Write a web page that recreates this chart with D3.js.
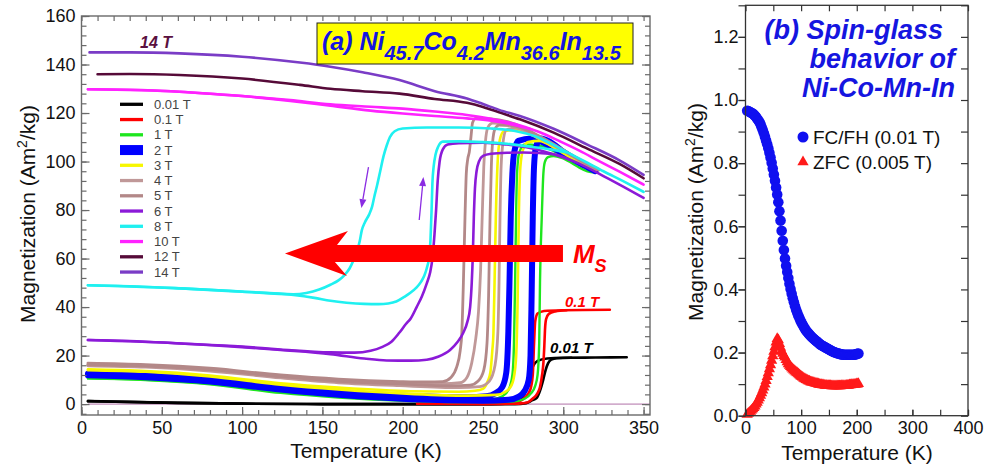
<!DOCTYPE html>
<html><head><meta charset="utf-8">
<script src="https://cdn.jsdelivr.net/npm/d3@7"></script>
<style>
body{margin:0;background:#fff;}
svg{display:block;font-family:"Liberation Sans",Arial,Helvetica,sans-serif;}
</style></head><body>
<svg id="chart" width="986" height="465"></svg>
<script>
// ---------- Panel (a): M(T) loops of Ni45.7Co4.2Mn36.6In13.5, [T (K), M (Am2/kg)] ----------
const fieldLabels = ["0.01 T","0.1 T","1 T","2 T","3 T","4 T","5 T","6 T","8 T","10 T","12 T","14 T"];
const tickTempA = [0,50,100,150,200,250,300,350];
const tickMagA = [0,20,40,60,80,100,120,140,160];

const m001Cool = [[4,1.2],[30,0.9],[60,0.5],[100,0.2],[150,0],[200,0],[255,0],[268,0.3],[273,1.5],[276,4.4],[278,8.5],[279.5,12.5],[281.5,16],[284,17.8],[290,18.8],[300,19.1],[320,19.2],[339.5,19.3]];
const m001Heat = [[4,1.2],[60,0.5],[100,0.2],[150,0],[270,0],[277,0.4],[280.5,1.5],[283.5,2.6],[285.5,5.5],[287.5,10],[289,14],[290.5,16.8],[292.5,18.3],[296,18.9],[305,19.1]];
const m01Cool = [[209,0.2],[250,0.1],[266,0.3],[272,1],[276.5,3],[279.5,6],[281,12],[281.8,25],[282.5,34],[284,37.3],[288,38.4],[300,38.7],[329,38.9]];
const m01Heat = [[209,0.2],[260,0.1],[272,0.2],[278,0.8],[281,2.3],[284,4.5],[285.5,7],[286.8,12],[287.6,16.8],[288.2,24],[288.6,30.5],[289.3,35],[291,37.2],[295,38.2],[302,38.7]];
const m1Cool = [[4,10.6],[40,10],[80,8.4],[124,5.2],[160,3.2],[205,1.8],[240,1.3],[255,1.8],[262,3.2],[266,6],[268.3,12],[269.3,25],[270,50],[270.6,77],[271.2,95],[272.5,103.5],[276,107],[285,106.5],[295,104],[305,100.5],[315,97.2],[320,96]];
const m1Heat = [[4,10.6],[40,9.9],[80,8.2],[124,4.6],[160,2.7],[205,1.3],[250,0.8],[268,1],[276,2.2],[280,4.5],[282.5,7.5],[284,12],[285,25],[285.5,50],[286.6,77],[287.6,95],[288.5,99.8],[290.5,101.8],[294,102.3],[299,101.5],[305,99.5],[310,97.5],[315,96],[320,95.5]];
const m2Cool = [[4,12.5],[40,11.8],[80,10],[124,7],[160,4.9],[205,3.3],[240,2.8],[252,3.2],[258,4.6],[262,7],[264.5,13],[265.8,30],[266.5,50],[267.3,77],[268.3,95],[269.5,104],[272,108.5],[280,109.5],[290,107],[300,103.2],[310,99.5],[320,96]];
const m2Heat = [[4,11.9],[40,11.1],[80,9.3],[124,6],[160,3.8],[205,2],[250,1.4],[266,1.8],[272,3],[276,5.5],[278.5,10],[279.6,20],[280.3,45],[281,77],[281.8,98],[283,106],[286,109.5],[292,108],[300,104],[310,100],[320,96.5]];
const m3Cool = [[4,14.3],[40,13.6],[80,11.8],[124,8.6],[160,6.8],[205,5.3],[235,5.1],[245,5.5],[250,6.3],[253,9.5],[254.6,13],[255.8,22],[256.5,29],[257.2,50],[258,77],[259,98],[260.5,109],[263,112.5],[270,113],[280,111],[290,107.5],[300,103.5],[310,100],[320,96.5]];
const m3Heat = [[4,14],[40,13.3],[80,11.4],[124,8],[160,6],[205,4.2],[240,3.5],[258,3.8],[265,5.5],[268.5,9],[270.5,18],[271.5,40],[272.3,77],[273.3,98],[275,105],[278,108],[285,108.5],[295,105.5],[305,101.5],[320,96.5]];
const m4Cool = [[4,16.3],[40,15.7],[80,14.2],[124,11.5],[160,9.8],[198,8.6],[225,8.4],[235.7,8.8],[240,11],[243,17],[245.5,27],[247.2,38],[248.5,55],[249.5,77],[250.5,98],[251.5,108],[253,114],[256,115.8],[265,115.6],[275,113.2],[285,110],[295,106.5],[305,102.5],[315,98.8],[322,96.5]];
const m4Heat = [[4,15.8],[40,15.2],[80,13.6],[124,10.8],[160,8.8],[198,7.6],[235,6.8],[248,7.2],[254,9.5],[257.5,16],[259.3,30],[260,50],[260.6,77],[261.3,98],[262.5,108],[264.5,113],[270,113.8],[280,111.5],[290,108],[300,104.5],[310,100.5],[322,96.5]];
const m5Cool = [[4,16.9],[40,16.3],[80,14.8],[124,12],[160,10.3],[198,9.3],[215,9.1],[225,9.3],[230,11],[233.7,15.4],[235.8,22],[236.8,29],[237.8,50],[238.8,77],[239.6,95],[240.5,101],[241.5,104],[242.5,110],[243.5,116],[245.5,117.8],[255,117.6],[265,116.5],[275,114],[285,110.5],[295,106.8],[305,102.8],[315,99],[322,96.8]];
const m5Heat = [[4,16.2],[40,15.7],[80,14.2],[124,11.3],[160,9.4],[198,8.3],[230,7.5],[242,7.8],[247,9.5],[250.5,14],[252.5,25],[253.5,45],[254.4,77],[255.2,98],[256,108],[257.5,113.5],[260,115],[270,114.6],[280,112],[290,108.5],[300,104.5],[310,100.8],[322,96.6]];
const m6Cool = [[4,26.4],[30,26],[62,25],[100,23.7],[124,22.5],[155,21.3],[170,21.2],[180,22],[187,23.5],[193,25.7],[198,29.5],[202,33],[205,35.3],[208.7,40],[212,44.5],[215,49.8],[217,54],[218.5,60],[219.8,70],[220.8,80],[221.8,92],[223,100],[225,105],[228,107],[235,107.6],[250,107.8],[265,107],[280,105.5],[294,103],[305,100.5],[315,97.5],[325,94],[335,90.5],[350,85]];
const m6Heat = [[4,26.4],[62,25],[100,23.5],[124,22.3],[155,20.6],[176,18.8],[190,18],[205,17.9],[215,18.3],[222,19.5],[229.5,22.3],[234,25.5],[237.8,29.5],[240.3,34],[242,40],[243,50],[243.7,62],[244.3,77],[245,89],[246,96],[247.5,100],[250,102.3],[255,103.2],[265,103.6],[275,103.7],[285,103.5],[294,103],[305,100.5]];
const m8Cool = [[4,49],[30,48.6],[62,47.7],[100,46.4],[132,45.3],[140,45.8],[148,47.2],[155,49.2],[160,51],[163.5,53],[167,56],[169.5,59.5],[171.5,63],[173.2,67],[174.5,71.5],[176.5,75],[179,78],[181,81.5],[182.5,86],[184,90],[186,96],[188,102],[190,106.5],[192,110],[195,112.5],[200,113.6],[215,114],[235,114],[255,113.6],[270,112.6],[282,110.5],[292,107.5],[302,104],[315,99.5],[325,96],[337,92],[350,87.5]];
const m8Heat = [[4,49],[62,47.7],[100,46.3],[132,45],[145,43.8],[155,42.6],[165,41.8],[176,41.3],[185,41.2],[191,41.5],[196,42.3],[201,44.2],[205,46],[208.5,48],[211.5,50.5],[213.5,53],[215,56],[216.3,60],[217.3,67.6],[218,80],[218.5,91],[219.3,98],[220.5,103],[222,106],[225,108.2],[235,108.3],[250,108],[265,107.3],[281,106],[292,105],[302,103.8]];
const m10Cool = [[4,129.8],[30,129.6],[61,128.8],[100,127],[130,125.3],[155,123.6],[180,122.6],[200,121.8],[220,120.6],[240,119.2],[255,117.6],[270,115.5],[285,112.2],[298,108.3],[310,104.5],[322,100.3],[335,95.8],[350,90.5]];
const m10Heat = [[4,129.8],[61,128.8],[100,127],[130,125],[155,123],[180,121],[200,119.8],[220,118.8],[240,117.8],[255,116.8],[270,115],[280,113.3]];
const m12 = [[10,136],[30,136.1],[61,135.7],[100,134.2],[136,131.6],[155,130],[175,129],[198,128],[220,125.8],[240,124.2],[250,122.5],[260,120.3],[273,117.4],[294,111.9],[315,105.3],[335,99],[350,93.1]];
const m14 = [[5,145],[30,145],[61,144.6],[100,143.2],[136,140.8],[155,139.1],[175,136.8],[198,133.6],[220,129],[240,126],[250,123.7],[260,121.3],[273,118.8],[294,113.5],[315,107],[335,100.5],[350,94.5]];

// ---------- Panel (b): low-field spin-glass data ----------
const tempsB = [3,5,7,9,11,13,15,17,19,21,23,25,27,29,31,33,35,37,39,41,43,45,47,49,51,53,55,57,59,61,63,65,67,69,71,73,75,77,79,81,83,85,87,89,91,93,95,97,99,101,103,105,107,109,111,113,115,117,119,121,123,125,127,129,131,133,135,137,139,141,143,145,147,149,151,153,155,157,159,161,163,165,167,169,171,173,175,177,179,181,183,185,187,189,191,193,195,197,199,201,203];
const fcfh = [.966,.965,.963,.961,.959,.957,.954,.950,.946,.941,.936,.930,.923,.914,.905,.895,.884,.872,.860,.847,.833,.818,.801,.783,.764,.744,.723,.701,.676,.648,.618,.586,.554,.525,.498,.475,.455,.436,.418,.401,.386,.372,.359,.347,.336,.326,.317,.309,.301,.294,.287,.281,.275,.270,.265,.261,.257,.253,.249,.246,.243,.240,.237,.234,.231,.228,.225,.223,.221,.219,.217,.215,.213,.211,.209,.207,.205,.203,.202,.200,.199,.198,.197,.196,.195,.194,.194,.193,.193,.193,.193,.193,.193,.193,.193,.193,.193,.194,.195,.196,.197];
const zfc = [.004,.007,.010,.013,.017,.021,.025,.030,.036,.042,.049,.056,.064,.072,.081,.090,.100,.111,.123,.135,.148,.161,.175,.189,.203,.218,.233,.244,.240,.228,.216,.205,.197,.190,.185,.177,.170,.164,.159,.155,.151,.147,.144,.141,.138,.135,.132,.129,.126,.123,.121,.118,.116,.114,.112,.110,.109,.107,.106,.105,.104,.103,.102,.101,.100,.099,.098,.098,.097,.097,.096,.096,.095,.095,.095,.095,.094,.094,.094,.094,.094,.094,.094,.094,.094,.095,.095,.095,.095,.096,.096,.096,.097,.097,.098,.098,.099,.099,.100,.100,.101];
const tickTempB = [0,100,200,300,400];
const tickMagB = [0,0.2,0.4,0.6,0.8,1.0,1.2];
const seriesB = ["FC/FH (0.01 T)","ZFC (0.005 T)"];

// ---------- styling ----------
const fieldStyle = [
  {color:"#000000", w:2.6, curves:[m001Cool,m001Heat]},
  {color:"#ff0000", w:2.6, curves:[m01Cool,m01Heat]},
  {color:"#1ee61e", w:2.4, curves:[m1Cool,m1Heat]},
  {color:"#0000ff", w:6,   curves:[m2Cool,m2Heat]},
  {color:"#f7f700", w:2.6, curves:[m3Cool,m3Heat]},
  {color:"#c09898", w:2.8, curves:[m4Cool,m4Heat]},
  {color:"#b38888", w:2.8, curves:[m5Cool,m5Heat]},
  {color:"#8b1ad8", w:2.6, curves:[m6Cool,m6Heat]},
  {color:"#1ff0f0", w:2.6, curves:[m8Cool,m8Heat]},
  {color:"#ff22ff", w:2.6, curves:[m10Cool,m10Heat]},
  {color:"#560a38", w:2.6, curves:[m12]},
  {color:"#7a3cc6", w:2.6, curves:[m14]}
];
const titleBlue = "#1515e0";

const svg = d3.select("#chart");

// ================= Panel (a) =================
const xA = d3.scaleLinear().domain([0,354]).range([81.5,650]);
const yA = d3.scaleLinear().domain([-4.5,160]).range([415,16]);
const gA = svg.append("g");
const frameA = "#6a6a6a";

// zero reference line
gA.append("line").attr("x1",xA(4)).attr("x2",xA(354)).attr("y1",yA(0)).attr("y2",yA(0))
  .attr("stroke","#b070a8").attr("stroke-width",1);

const lineA = d3.line().x(d=>xA(d[0])).y(d=>yA(d[1])).curve(d3.curveMonotoneX);
fieldStyle.forEach(f=>{
  f.curves.forEach(c=>{
    gA.append("path").attr("d",lineA(c)).attr("fill","none")
      .attr("stroke",f.color).attr("stroke-width",f.w)
      .attr("stroke-linejoin","round").attr("stroke-linecap","round");
  });
});

function styleAxis(g, col){
  g.select(".domain").remove();
  g.selectAll(".tick line").attr("stroke",col).attr("stroke-width",1.2);
  g.selectAll("text").attr("fill","#111").attr("font-size",18);
}
// axes with inward ticks
const minorTA = d3.range(0,351,10), minorMA = d3.range(-4,161,4);
styleAxis(gA.append("g").attr("transform",`translate(0,415)`)
  .call(d3.axisBottom(xA).tickValues(minorTA).tickSize(-5).tickFormat("")),frameA);
styleAxis(gA.append("g").attr("transform",`translate(0,415)`)
  .call(d3.axisBottom(xA).tickValues(tickTempA).tickSize(-8).tickPadding(6).tickFormat(d3.format("d"))),frameA);
styleAxis(gA.append("g").attr("transform",`translate(0,16)`)
  .call(d3.axisTop(xA).tickValues(minorTA).tickSize(-5).tickFormat("")),frameA);
styleAxis(gA.append("g").attr("transform",`translate(81.5,0)`)
  .call(d3.axisLeft(yA).tickValues(minorMA).tickSize(-5).tickFormat("")),frameA);
styleAxis(gA.append("g").attr("transform",`translate(81.5,0)`)
  .call(d3.axisLeft(yA).tickValues(tickMagA).tickSize(-8).tickPadding(6).tickFormat(d3.format("d"))),frameA);
styleAxis(gA.append("g").attr("transform",`translate(650,0)`)
  .call(d3.axisRight(yA).tickValues(minorMA).tickSize(-5).tickFormat("")),frameA);
styleAxis(gA.append("g").attr("transform",`translate(650,0)`)
  .call(d3.axisRight(yA).tickValues(tickMagA).tickSize(-8).tickFormat("")),frameA);
gA.append("rect").attr("x",81.5).attr("y",16).attr("width",650-81.5).attr("height",415-16)
  .attr("fill","none").attr("stroke",frameA).attr("stroke-width",1.4);

// axis titles
gA.append("text").attr("x",366).attr("y",458).attr("text-anchor","middle")
  .attr("font-size",21).attr("fill","#111").text("Temperature (K)");
const ylabA = gA.append("text").attr("transform","translate(35,214) rotate(-90)")
  .attr("text-anchor","middle").attr("font-size",21).attr("fill","#111");
ylabA.append("tspan").text("Magnetization (Am");
ylabA.append("tspan").attr("dy",-8).attr("font-size",14).text("2");
ylabA.append("tspan").attr("dy",8).text("/kg)");

// legend
fieldLabels.forEach((lab,i)=>{
  const yy = 104.3 + i*15.25, f = fieldStyle[i];
  if (i===3) {
    gA.append("rect").attr("x",120).attr("y",yy-5).attr("width",23).attr("height",10).attr("fill",f.color);
  } else {
    gA.append("line").attr("x1",120).attr("x2",143).attr("y1",yy).attr("y2",yy)
      .attr("stroke",f.color).attr("stroke-width",3.3);
  }
  gA.append("text").attr("x",154).attr("y",yy+4.6).attr("font-size",13).attr("fill","#444").text(lab);
});

// title box
gA.append("rect").attr("x",317).attr("y",23).attr("width",316).attr("height",41)
  .attr("fill","#ffff00").attr("stroke","#222").attr("stroke-width",1);
const ttl = gA.append("text").attr("x",322).attr("y",49.5).attr("fill",titleBlue)
  .attr("font-weight","bold").attr("font-style","italic").attr("font-size",25);
[["(a) Ni",0],["45.7",1],["Co",0],["4.2",1],["Mn",0],["36.6",1],["In",0],["13.5",1]].forEach((p,i,arr)=>{
  const prevSub = i>0 && arr[i-1][1]===1;
  const t = ttl.append("tspan").text(p[0]);
  if (p[1]===1) t.attr("dy",10).attr("font-size",20);
  else if (prevSub) t.attr("dy",-10);
});

// curve annotations
const annoBold = (x,y,txt,col,size)=>gA.append("text").attr("x",x).attr("y",y).attr("fill",col)
  .attr("font-weight","bold").attr("font-style","italic").attr("font-size",size).text(txt);
annoBold(xA(36.5),yA(146.8),"14 T","#5a1040",16);
annoBold(xA(301),yA(40),"0.1 T","#ff0000",15);
annoBold(xA(291.8),yA(21.1),"0.01 T","#000000",15);
const ms = gA.append("text").attr("x",xA(306)).attr("y",yA(58.2)).attr("fill","#ff0000")
  .attr("font-weight","bold").attr("font-style","italic").attr("font-size",26);
ms.append("tspan").text("M");
ms.append("tspan").attr("dy",9).attr("font-size",18).text("S");

// big arrow toward lower temperature (saturation shift)
const bigArrow = [[126.7,62.1],[165.9,71.4],[159.1,65.6],[299.8,65.6],[299.8,58.6],[157.8,58.6],[165.3,52.8]];
gA.append("path").attr("d",d3.line().x(d=>xA(d[0])).y(d=>yA(d[1]))(bigArrow)+"Z").attr("fill","#ff0000");

// cooling / heating direction arrows
function smallArrow(t0,m0,t1,m1){
  const x0=xA(t0),y0=yA(m0),x1=xA(t1),y1=yA(m1);
  const dx=x1-x0, dy=y1-y0, L=Math.hypot(dx,dy), ux=dx/L, uy=dy/L;
  const bx=x1-9*ux, by=y1-9*uy, nx=-uy, ny=ux;
  gA.append("line").attr("x1",x0).attr("y1",y0).attr("x2",bx).attr("y2",by)
    .attr("stroke","#8a2be2").attr("stroke-width",1.3);
  gA.append("path").attr("d",`M${x1},${y1}L${bx+3.5*nx},${by+3.5*ny}L${bx-3.5*nx},${by-3.5*ny}Z`).attr("fill","#8a2be2");
}
smallArrow(178.7,97.7,174.3,80.8);
smallArrow(210.3,75.9,212.9,93.6);

// ================= Panel (b) =================
const xB = d3.scaleLinear().domain([0,400]).range([745.5,968]);
const yB = d3.scaleLinear().domain([0,1.3]).range([415.7,5.3]);
const gB = svg.append("g");
const frameB = "#333";
const fcCol = "#1010f0", zfcCol = "#ff1a1a";

gB.selectAll("circle.fc").data(tempsB).join("circle").attr("class","fc")
  .attr("cx",d=>xB(d)).attr("cy",(d,i)=>yB(fcfh[i])).attr("r",5.3).attr("fill",fcCol);
const tri = d3.symbol().type(d3.symbolTriangle).size(55);
gB.selectAll("path.zfc").data(tempsB).join("path").attr("class","zfc")
  .attr("transform",(d,i)=>`translate(${xB(d)},${yB(zfc[i])})`).attr("d",tri()).attr("fill",zfcCol);

const minorTB = d3.range(0,401,50), minorMB = d3.range(0,1.31,0.1);
styleAxis(gB.append("g").attr("transform",`translate(0,415.7)`)
  .call(d3.axisBottom(xB).tickValues(minorTB).tickSize(-6).tickFormat("")),frameB);
styleAxis(gB.append("g").attr("transform",`translate(0,415.7)`)
  .call(d3.axisBottom(xB).tickValues(tickTempB).tickSize(-6).tickPadding(6).tickFormat(d3.format("d"))),frameB);
styleAxis(gB.append("g").attr("transform",`translate(0,5.3)`)
  .call(d3.axisTop(xB).tickValues(minorTB).tickSize(-6).tickFormat("")),frameB);
styleAxis(gB.append("g").attr("transform",`translate(745.5,0)`)
  .call(d3.axisLeft(yB).tickValues(minorMB).tickSize(7).tickFormat("")),frameB);
styleAxis(gB.append("g").attr("transform",`translate(745.5,0)`)
  .call(d3.axisLeft(yB).tickValues(tickMagB).tickSize(7).tickPadding(0).tickFormat(d3.format(".1f"))),frameB);
styleAxis(gB.append("g").attr("transform",`translate(968,0)`)
  .call(d3.axisRight(yB).tickValues(minorMB).tickSize(-7).tickFormat("")),frameB);
gB.append("rect").attr("x",745.5).attr("y",5.3).attr("width",968-745.5).attr("height",415.7-5.3)
  .attr("fill","none").attr("stroke",frameB).attr("stroke-width",1.3);

gB.append("text").attr("x",857).attr("y",460).attr("text-anchor","middle")
  .attr("font-size",21).attr("fill","#111").text("Temperature (K)");
const ylabB = gB.append("text").attr("transform","translate(703,212) rotate(-90)")
  .attr("text-anchor","middle").attr("font-size",21).attr("fill","#111");
ylabB.append("tspan").text("Magnetization (Am");
ylabB.append("tspan").attr("dy",-8).attr("font-size",14).text("2");
ylabB.append("tspan").attr("dy",8).text("/kg)");

// title
[["(b) Spin-glass",943,39],["behavior of",955,68],["Ni-Co-Mn-In",955,97]].forEach(l=>{
  gB.append("text").attr("x",l[1]).attr("y",l[2]).attr("text-anchor","end").attr("fill",titleBlue)
    .attr("font-weight","bold").attr("font-style","italic").attr("font-size",27).text(l[0]);
});

// legend
gB.append("circle").attr("cx",803).attr("cy",137).attr("r",5.5).attr("fill",fcCol);
gB.append("path").attr("transform","translate(803,162)").attr("d",tri()).attr("fill",zfcCol);
seriesB.forEach((s,i)=>{
  gB.append("text").attr("x",813).attr("y",137+i*25+6.5).attr("font-size",19).attr("fill","#111").text(s);
});
</script>
</body></html>
